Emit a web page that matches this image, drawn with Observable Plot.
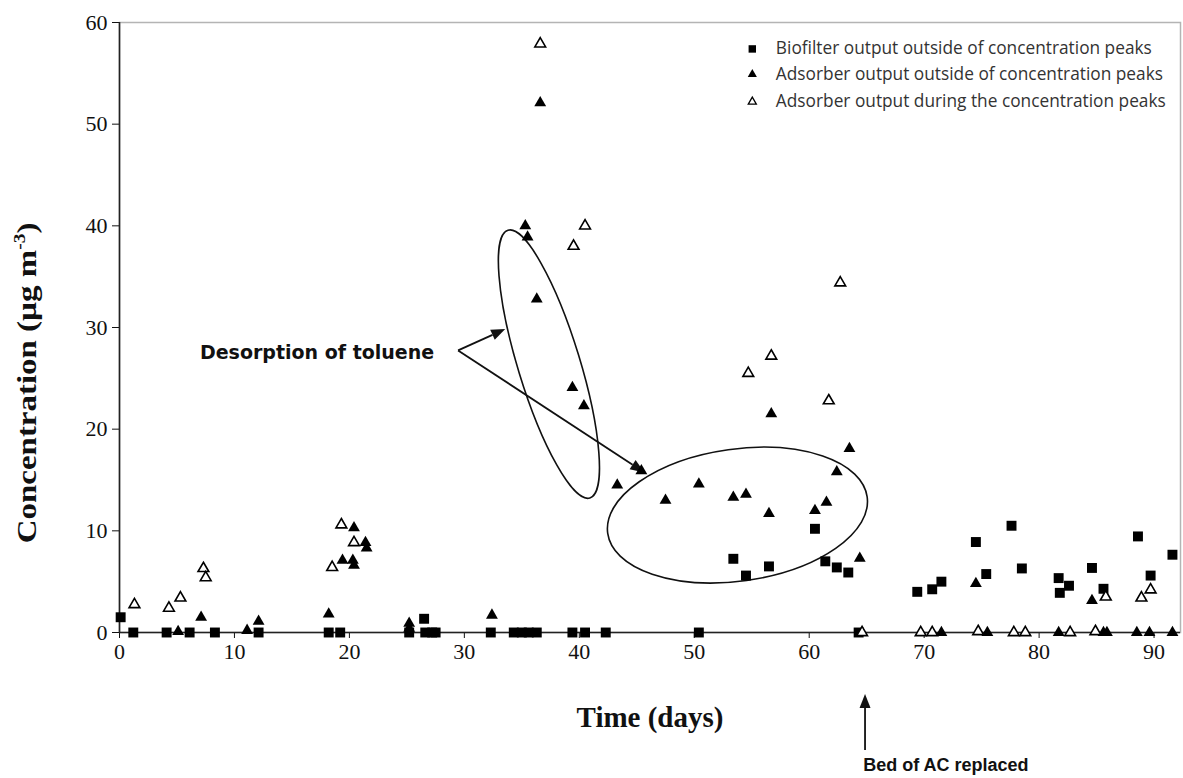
<!DOCTYPE html>
<html><head><meta charset="utf-8">
<script src="https://cdn.jsdelivr.net/npm/d3@7"></script>
<script src="https://cdn.jsdelivr.net/npm/@observablehq/plot@0.6"></script>
<style>body{margin:0;background:#fff;}</style>
</head><body><div id="chart"></div>
<script>
// ---- data (days, µg m-3) ----
const biofilterDay  = [0.1,1.2,4.1,6.1,8.3,12.1,18.2,19.2,25.2,26.5,26.6,27.2,27.5,32.3,34.3,35.0,35.6,36.3,39.4,40.5,42.3,50.4,53.4,54.5,56.5,60.5,61.4,62.4,63.4,64.3,69.4,70.7,71.5,74.5,75.4,77.6,78.5,81.7,81.8,82.6,84.6,85.6,88.6,89.7,91.6];
const biofilterConc = [1.5,0,0,0,0,0,0,0,0,1.35,0,0,0,0,0,0,0,0,0,0,0,0,7.25,5.6,6.5,10.2,7.0,6.4,5.9,0,4.0,4.25,5.0,8.9,5.75,10.5,6.3,5.35,3.9,4.6,6.35,4.3,9.45,5.6,7.65];

const adsOutDay  = [5.1,7.1,11.1,12.1,18.2,19.4,20.4,20.3,20.4,21.4,21.5,25.2,25.2,32.4,35.3,35.5,36.3,36.6,39.4,40.4,43.3,45.4,47.5,50.4,53.4,54.5,56.5,56.7,60.5,61.5,62.4,63.5,64.4,71.5,74.5,75.5,81.7,84.6,85.6,85.9,88.5,89.6,91.6];
const adsOutConc = [0.1,1.5,0.2,1.1,1.8,7.1,10.3,7.1,6.6,8.85,8.3,0.9,0.4,1.7,40.0,38.9,32.8,52.1,24.1,22.3,14.5,15.9,13.0,14.6,13.3,13.6,11.7,21.5,12.0,12.8,15.8,18.1,7.3,0,4.8,0,0,3.15,0,0,0,0,0];

const adsPeakDay  = [1.3,4.3,5.3,7.3,7.5,18.5,19.3,20.4,36.6,39.5,40.5,54.7,56.7,61.7,62.7,64.6,69.7,70.7,74.7,77.8,78.8,82.7,84.9,85.8,88.9,89.7];
const adsPeakConc = [2.75,2.4,3.4,6.3,5.4,6.4,10.6,8.85,57.9,38.0,40.0,25.5,27.2,22.8,34.4,0,0,0,0.1,0,0,0,0.1,3.5,3.4,4.2];

const xTicks = [0,10,20,30,40,50,60,70,80,90];
const yTicks = [0,10,20,30,40,50,60];
const seriesNames = [
  "Biofilter output outside of concentration peaks",
  "Adsorber output outside of concentration peaks",
  "Adsorber output during the concentration peaks"
];
const xTitle = "Time (days)";
const yTitle = "Concentration (µg m";
const annotationText = "Desorption of toluene";
const bedText = "Bed of AC replaced";

// ---- tables ----
const rows = (xs, ys) => xs.map((d, i) => ({day: d, conc: ys[i]}));
const bio = rows(biofilterDay, biofilterConc);
const adsOut = rows(adsOutDay, adsOutConc);
const adsPeak = rows(adsPeakDay, adsPeakConc);

// annotation anchors (data coordinates)
const legendX = 55.05, legendTextX = 57.1, legendY = [57.4, 54.9, 52.2];
const desorbVertex = [29.5, 27.7];
const desorbTargets = [[33.6, 29.8], [45.7, 15.7]];
const ellipses = [
  {cx: 37.4, cy: 26.35, rx: 31, ry: 140, rot: -17},
  {cx: 53.8, cy: 11.5, rx: 131, ry: 66, rot: -8}
];
const bedArrow = {x: 64.9, y1: -11.6, y2: -6.1};

function annotations(index, scales, values, dims) {
  const {x, y} = scales;
  const g = d3.create("svg:g").attr("fill", "none").attr("stroke", "#111");
  for (const e of ellipses) {
    g.append("ellipse")
      .attr("cx", 0).attr("cy", 0).attr("rx", e.rx).attr("ry", e.ry)
      .attr("transform", `translate(${x(e.cx)},${y(e.cy)}) rotate(${e.rot})`)
      .attr("stroke-width", 1.6);
  }
  const arrow = (x0, y0, x1, y1) => {
    const dx = x1 - x0, dy = y1 - y0, L = Math.hypot(dx, dy);
    const ux = dx / L, uy = dy / L, hl = 14, hw = 5.5;
    const bx = x1 - ux * hl, by = y1 - uy * hl;
    g.append("line").attr("x1", x0).attr("y1", y0).attr("x2", bx).attr("y2", by).attr("stroke-width", 1.8);
    g.append("polygon")
      .attr("points", `${x1},${y1} ${bx - uy * hw},${by + ux * hw} ${bx + uy * hw},${by - ux * hw}`)
      .attr("fill", "#111").attr("stroke", "none");
  };
  for (const t of desorbTargets) arrow(x(desorbVertex[0]), y(desorbVertex[1]), x(t[0]), y(t[1]));
  arrow(x(bedArrow.x), y(bedArrow.y1), x(bedArrow.x), y(bedArrow.y2));
  // y-axis title with superscript
  const t = g.append("text")
    .attr("transform", `translate(36,${y(24.5)}) rotate(-90) scale(1.22,1)`)
    .attr("text-anchor", "middle")
    .attr("fill", "#111").attr("stroke", "none")
    .attr("font-family", "Liberation Serif").attr("font-weight", "bold").attr("font-size", 27);
  t.append("tspan").text(yTitle);
  t.append("tspan").attr("font-size", 16).attr("dy", -11).text("-3");
  t.append("tspan").attr("dy", 11).text(")");
  return g.node();
}

const chart = Plot.plot({
  width: 1183, height: 778,
  marginLeft: 119, marginRight: 3, marginTop: 22, marginBottom: 146,
  x: {domain: [0, 92.3], axis: null},
  y: {domain: [0, 60], axis: null},
  style: {background: "white", fontFamily: "Liberation Serif", color: "#111"},
  marks: [
    Plot.frame({stroke: "#b4b4b4", strokeWidth: 1.5}),
    Plot.axisY(yTicks, {tickSize: 7, tickPadding: 5, fontSize: 22, label: null, fontFamily: "Liberation Serif"}),
    Plot.axisX(xTicks, {tickSize: 6, tickPadding: 5, fontSize: 22, label: null, fontFamily: "Liberation Serif"}),
    Plot.ruleY([0], {stroke: "#222", strokeWidth: 1.6}),
    Plot.ruleX([0], {stroke: "#222", strokeWidth: 1.6}),
    annotations,
    Plot.dot(bio, {x: "day", y: "conc", symbol: "square", r: 5.6, fill: "#000"}),
    Plot.dot(adsOut, {x: "day", y: "conc", symbol: "triangle", r: 4.4, fill: "#000"}),
    Plot.dot(adsPeak, {x: "day", y: "conc", symbol: "triangle", r: 4.0, fill: "#fff", stroke: "#000", strokeWidth: 1.6}),
    // legend
    Plot.dot([seriesNames[0]], {x: legendX, y: legendY[0], symbol: "square", r: 4.2, fill: "#000"}),
    Plot.dot([seriesNames[1]], {x: legendX, y: legendY[1], symbol: "triangle", r: 3.4, fill: "#000"}),
    Plot.dot([seriesNames[2]], {x: legendX, y: legendY[2], symbol: "triangle", r: 3.0, fill: "#fff", stroke: "#000", strokeWidth: 1.3}),
    Plot.text(seriesNames, {x: legendTextX, y: (d, i) => legendY[i], text: d => d, textAnchor: "start",
      fontFamily: "Open Sans", fontSize: 17.3, fill: "#333"}),
    // annotations text
    Plot.text([annotationText], {x: 7.0, y: 27.5, text: d => d, textAnchor: "start",
      fontFamily: "DejaVu Sans", fontWeight: "bold", fontSize: 19, fill: "#111"}),
    Plot.text([xTitle], {x: 46.15, y: -8.4, text: d => d, fontFamily: "Liberation Serif",
      fontWeight: "bold", fontSize: 29, fill: "#111"}),
    Plot.text([bedText], {x: 64.7, y: -13.1, text: d => d, textAnchor: "start",
      fontFamily: "Liberation Sans", fontWeight: "bold", fontSize: 18, fill: "#111"})
  ]
});
document.getElementById("chart").append(chart);
</script>
</body></html>
